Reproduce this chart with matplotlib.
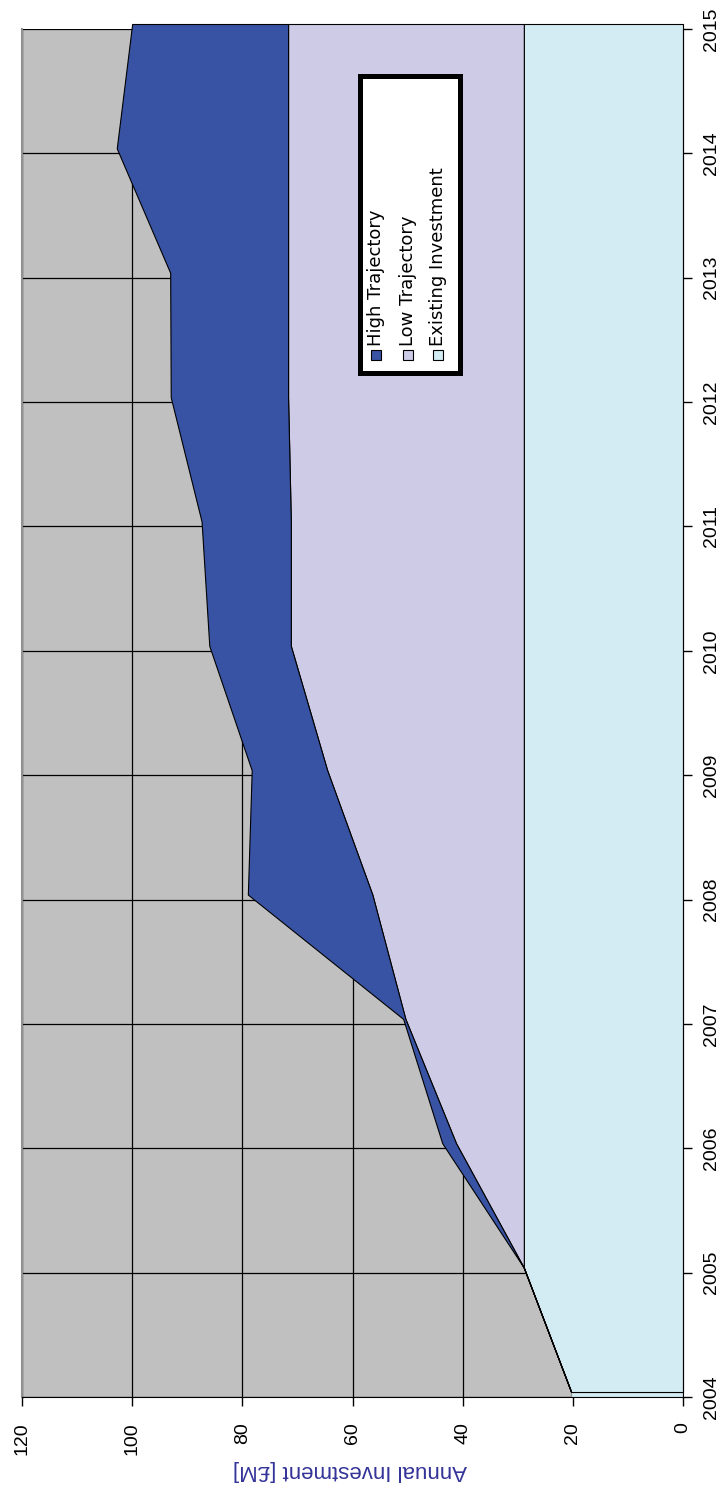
import matplotlib
matplotlib.use("Agg")
import matplotlib.pyplot as plt
import matplotlib.patches as mpatches
from matplotlib.transforms import offset_copy
import numpy as np

plt.rcParams["font.family"] = ["Liberation Sans", "DejaVu Sans"]

# ── data (stacked components, £M) ─────────────────────
years = [2004, 2005, 2006, 2007, 2008, 2009, 2010, 2011, 2012, 2013, 2014, 2015]
existing = [20.3, 28.9, 28.9, 28.9, 28.9, 28.9, 28.9, 28.9, 28.9, 28.9, 28.9, 28.9]
low_traj = [0.0, 0.0, 12.3, 21.5, 27.5, 35.7, 42.3, 42.3, 42.8, 42.8, 42.8, 42.8]
high_traj = [0.0, 0.0, 2.5, 0.4, 22.6, 13.7, 14.8, 16.2, 21.3, 21.4, 31.1, 28.3]
value_ticks = [0, 20, 40, 60, 80, 100, 120]
series_names = ["High Trajectory", "Low Trajectory", "Existing Investment"]

# ── colours ───────────────────────────────────────────
C_BG = "#C0C0C0"
C_EXIST = "#D3EBF3"
C_LOW = "#CDCBE6"
C_HIGH = "#3853A4"
C_LABEL = "#333399"

W, H = 722, 1488
fig = plt.figure(figsize=(W / 100, H / 100), dpi=100)
fig.patch.set_facecolor("white")


def fx(x):
    return x / W


def fy(y):
    return 1 - y / H


# axes placed in pixel terms (chart is drawn rotated: years run upward)
ax = fig.add_axes([fx(22), fy(1397), (683 - 22) / W, (1397 - 29) / H])
ax.set_xlim(120, 0)
ax.set_ylim(2004, 2015)
ax.set_facecolor(C_BG)

ax.set_axisbelow(True)
ax.set_xticks(value_ticks)
ax.set_yticks(years)
ax.grid(True, color="black", lw=0.9)

y = np.array(years, dtype=float)
e = np.array(existing)
lo = e + np.array(low_traj)
hi = lo + np.array(high_traj)

# slight 3-D depth shift of the filled areas
tr = offset_copy(ax.transData, fig=fig, x=0, y=5, units="dots")
ax.fill_betweenx(y, 0, e, facecolor=C_EXIST, edgecolor="black", lw=0.8,
                 transform=tr, clip_on=False, zorder=3)
ax.fill_betweenx(y, e, lo, facecolor=C_LOW, edgecolor="black", lw=0.8,
                 transform=tr, clip_on=False, zorder=3)
ax.fill_betweenx(y, lo, hi, facecolor=C_HIGH, edgecolor="black", lw=0.8,
                 transform=tr, clip_on=False, zorder=3)
# floor strip under the first year
ax.add_patch(mpatches.Rectangle((0, years[0]), existing[0], 0.04,
                                facecolor=C_EXIST, edgecolor="#909090",
                                lw=0.8, zorder=2.5))

# spines
ax.spines["top"].set_visible(False)
ax.spines["left"].set_color("#909090")
ax.spines["left"].set_linewidth(1.5)
ax.spines["right"].set_color("black")
ax.spines["bottom"].set_color("black")
ax.spines["right"].set_zorder(5)

ax.yaxis.tick_right()
ax.tick_params(axis="y", direction="out", length=6.5, width=1, pad=8,
               labelsize=14, labelrotation=90)
ax.tick_params(axis="x", direction="out", length=6.5, width=1, pad=11.5,
               labelsize=14, labelrotation=90)
for t in ax.get_yticklabels():
    t.set_va("center")
    t.set_ha("left")
for t in ax.get_xticklabels():
    t.set_va("top")
    t.set_ha("center")

fig.text(fx(350), fy(1470), "Annual Investment [£M]", rotation=180,
         ha="center", va="center", fontsize=16, color=C_LABEL)

# ── rotated legend ───────────────────────────────────
fig.add_artist(mpatches.Rectangle((fx(359.5), fy(372.5)), 100 / W, 297 / H,
                                  transform=fig.transFigure, facecolor="white",
                                  edgecolor="black", lw=3.6, zorder=10))
leg_colors = [C_HIGH, C_LOW, C_EXIST]
leg_x = [376, 408, 438]
for name, col, cx in zip(series_names, leg_colors, leg_x):
    fig.add_artist(mpatches.Rectangle((fx(cx - 5), fy(360)), 10 / W, 10 / H,
                                      transform=fig.transFigure, facecolor=col,
                                      edgecolor="black", lw=0.8, zorder=11))
    fig.text(fx(cx), fy(346), name, rotation=90, ha="center", va="bottom",
             fontsize=13, family="DejaVu Sans", zorder=11)

fig.savefig("out.png", dpi=100, facecolor="white")
